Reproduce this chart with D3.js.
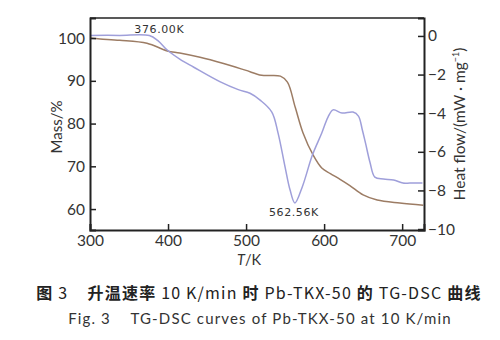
<!DOCTYPE html>
<html>
<head>
<meta charset="utf-8">
<script src="https://cdn.jsdelivr.net/npm/d3@7"></script>
<style>
  html, body { margin: 0; padding: 0; background: #ffffff; }
  svg { display: block; }
  .tick text { font-family: "Lato", "Open Sans", sans-serif; font-size: 15.5px; fill: #333; }
</style>
</head>
<body>
<svg id="chart" width="500" height="340"></svg>
<script>
// Temperature axis ticks and TG (mass) / DSC (heat flow) readings
const tempTicks = [300, 400, 500, 600, 700];
const massTicks = [60, 70, 80, 90, 100];
const heatTicks = [0, -2, -4, -6, -8, -10];

const massTemp = [300, 313, 338, 373, 399, 415, 441, 470, 499, 520, 544, 553, 563, 573, 586, 597, 608, 620, 633, 650, 668, 697, 727];
const massValue = [100, 99.8, 99.5, 98.8, 97.0, 96.5, 95.5, 94.1, 92.5, 91.3, 91.1, 89.7, 83.8, 77.8, 72.6, 69.6, 68.3, 67.0, 65.5, 63.3, 62.1, 61.4, 60.9];

const heatTemp = [300, 338, 376, 387, 399, 415, 433, 467, 490, 505, 518, 533, 541, 550, 556.4, 562.56, 572, 585, 597, 605, 611.5, 623, 637, 644, 649, 653, 659, 665, 676, 689, 701, 710, 726];
const heatValue = [0.03, 0.03, 0.02, -0.24, -0.73, -1.2, -1.62, -2.38, -2.78, -2.97, -3.32, -3.94, -5.03, -6.79, -7.98, -8.65, -7.82, -6.17, -5.03, -4.2, -3.83, -3.99, -3.94, -4.15, -4.87, -5.54, -6.58, -7.31, -7.41, -7.46, -7.62, -7.62, -7.62];

const peakTemp = 376.00;
const valleyTemp = 562.56;

const svg = d3.select("#chart");
const plotLeft = 90, plotRight = 424, plotTop = 18, plotBottom = 230;

const x = d3.scaleLinear().domain([300, 728]).range([plotLeft, plotRight]);
const yMass = d3.scaleLinear().domain([55.1, 104.7]).range([plotBottom, plotTop]);
const yHeat = d3.scaleLinear().domain([-10.05, 0.93]).range([plotBottom, plotTop]);

// curves
const massLine = d3.line().x(d => x(d[0])).y(d => yMass(d[1])).curve(d3.curveCatmullRom.alpha(0.5));
const heatLine = d3.line().x(d => x(d[0])).y(d => yHeat(d[1])).curve(d3.curveCatmullRom.alpha(0.5));

svg.append("path")
  .datum(massTemp.map((t, i) => [t, massValue[i]]))
  .attr("d", massLine)
  .attr("fill", "none").attr("stroke", "#9c7c64").attr("stroke-width", 1.5);

svg.append("path")
  .datum(heatTemp.map((t, i) => [t, heatValue[i]]))
  .attr("d", heatLine)
  .attr("fill", "none").attr("stroke", "#9f9fda").attr("stroke-width", 1.5);

// frame top edge
svg.append("line").attr("x1", plotLeft).attr("x2", plotRight).attr("y1", plotTop).attr("y2", plotTop)
  .attr("stroke", "#222").attr("stroke-width", 1.5);

// axes with inward ticks
const gx = svg.append("g").attr("transform", `translate(0,${plotBottom})`)
  .call(d3.axisBottom(x).tickValues(tempTicks).tickSize(-6).tickPadding(5));
const gl = svg.append("g").attr("transform", `translate(${plotLeft},0)`)
  .call(d3.axisLeft(yMass).tickValues(massTicks).tickSize(-6).tickPadding(5));
const gr = svg.append("g").attr("transform", `translate(${plotRight},0)`)
  .call(d3.axisRight(yHeat).tickValues(heatTicks).tickSize(-6).tickPadding(4)
    .tickFormat(d => d === 0 ? "0" : "\u2212" + Math.abs(d)));

[gx, gl, gr].forEach(g => {
  g.select(".domain").attr("stroke", "#222").attr("stroke-width", 2);
  g.selectAll(".tick line").attr("stroke", "#222").attr("stroke-width", 1.5);
});

// axis titles
svg.append("text")
  .attr("x", 249).attr("y", 265)
  .attr("text-anchor", "middle")
  .attr("font-family", "Lato, 'Open Sans', sans-serif").attr("font-size", 14.5).attr("fill", "#333")
  .html('<tspan font-style="italic">T</tspan>/K');

svg.append("text")
  .attr("transform", `translate(62,127) rotate(-90)`)
  .attr("text-anchor", "middle")
  .attr("font-family", "Lato, 'Open Sans', sans-serif").attr("font-size", 15).attr("fill", "#333")
  .text("Mass/%");

svg.append("text")
  .attr("transform", `translate(465,${(plotTop + plotBottom) / 2}) rotate(-90)`)
  .attr("text-anchor", "middle")
  .attr("font-family", "Lato, 'Open Sans', sans-serif").attr("font-size", 15.5).attr("fill", "#333")
  .html('Heat flow/(mW \u00b7 mg<tspan dy="-6" font-size="9">\u22121</tspan><tspan dy="6">)</tspan>');

// peak and valley annotations
svg.append("text")
  .attr("x", x(peakTemp) + 10).attr("y", 33)
  .attr("text-anchor", "middle")
  .attr("font-family", "'DejaVu Sans', sans-serif").attr("font-size", 11).attr("letter-spacing", 0.6).attr("fill", "#333")
  .text(peakTemp.toFixed(2) + "K");

svg.append("text")
  .attr("x", x(valleyTemp) - 1).attr("y", 216)
  .attr("text-anchor", "middle")
  .attr("font-family", "'DejaVu Sans', sans-serif").attr("font-size", 11).attr("letter-spacing", 0.6).attr("fill", "#333")
  .text(valleyTemp.toFixed(2) + "K");

// captions
svg.append("text")
  .attr("x", 259).attr("y", 299)
  .attr("text-anchor", "middle")
  .attr("font-family", "'Noto Sans CJK SC', sans-serif").attr("font-size", 16).attr("letter-spacing", 1.2).attr("fill", "#222")
  .attr("xml:space", "preserve")
  .html('<tspan font-weight="bold">图</tspan> 3    <tspan font-weight="bold">升温速率</tspan> 10 K/min <tspan font-weight="bold">时</tspan> Pb-TKX-50 <tspan font-weight="bold">的</tspan> TG-DSC <tspan font-weight="bold">曲线</tspan>');

svg.append("text")
  .attr("x", 260).attr("y", 324)
  .attr("text-anchor", "middle")
  .attr("font-family", "Lato, 'Open Sans', sans-serif").attr("font-size", 15).attr("letter-spacing", 1.15).attr("fill", "#333")
  .attr("xml:space", "preserve")
  .text("Fig. 3    TG-DSC curves of Pb-TKX-50 at 10 K/min");
</script>
</body>
</html>
